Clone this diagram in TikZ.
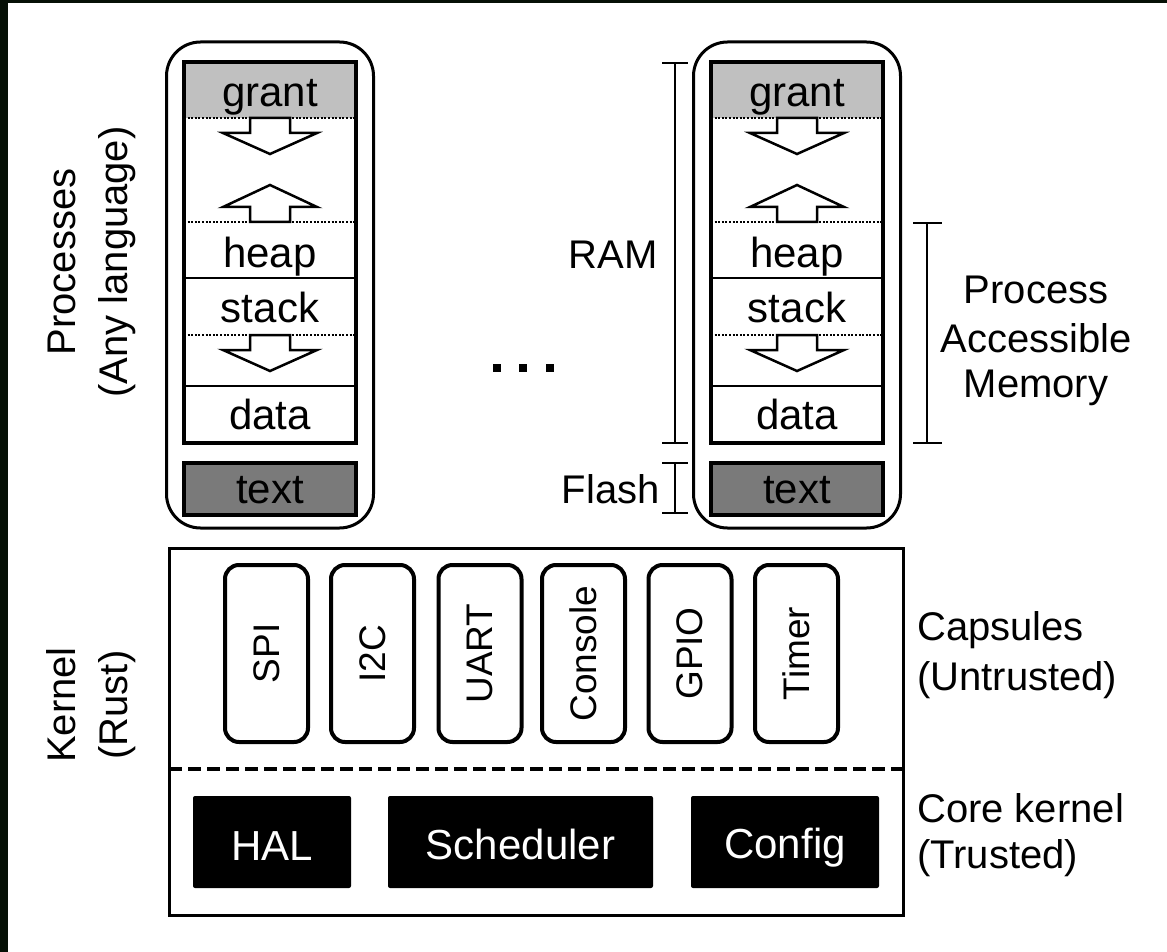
\documentclass[tikz,border=0pt]{standalone}
\usepackage{fontspec}
\setmainfont{Liberation Sans}
\definecolor{edgedark}{HTML}{061006}
\definecolor{grantgray}{HTML}{C0C0C0}
\definecolor{textgray}{HTML}{7A7A7A}
\tikzset{
  memlbl/.style={font=\fontsize{42}{48}\selectfont, inner sep=0pt, anchor=base},
  sidelbl/.style={font=\fontsize{40}{46}\selectfont, inner sep=0pt, anchor=base, rotate=90},
  rightlbl/.style={font=\fontsize{40}{46}\selectfont, inner sep=0pt},
  procbox/.style={draw, line width=3pt, rounded corners=34pt, minimum width=207pt, minimum height=486pt, inner sep=0pt},
  membox/.style={draw, line width=4pt, minimum width=172pt, minimum height=381pt, inner sep=0pt},
  grantbox/.style={fill=grantgray, minimum width=172pt, minimum height=56pt, inner sep=0pt},
  textbox/.style={draw, line width=3.5pt, fill=textgray, minimum width=172pt, minimum height=52pt, inner sep=0pt},
  dotsep/.style={line width=2pt, dash pattern=on 2pt off 1.6pt},
  solidsep/.style={line width=2pt},
  blockarrow/.style={draw, fill=white, line width=2.5pt, line join=miter},
  capsule/.style={draw, line width=4pt, rounded corners=14pt, minimum width=177pt, minimum height=83pt, inner sep=0pt, rotate=90, font=\fontsize{37}{42}\selectfont},
  corebox/.style={fill=black, rounded corners=2pt, minimum height=92pt, inner sep=0pt},
  corelbl/.style={text=white, font=\fontsize{42}{48}\selectfont, inner sep=0pt, anchor=base},
  bracket/.style={line width=2.5pt},
  darrow/.pic={\path[blockarrow] (-20,0) -- (-20,15) -- (-47,15) -- (0,36) -- (47,15) -- (20,15) -- (20,0) -- cycle;},
  uarrow/.pic={\path[blockarrow] (-20,0) -- (-20,-15) -- (-47,-15) -- (0,-37) -- (47,-15) -- (20,-15) -- (20,0) -- cycle;}
}
\begin{document}
\begin{tikzpicture}[x=1pt,y=-1pt]
\fill[edgedark] (0,0) rectangle (1167,952);
\fill[white] (8,3) rectangle (1167,952);
\useasboundingbox (0,0) rectangle (1167,952);

% side labels
\node[sidelbl] (proclbl) at (75,262) {Processes};
\node[sidelbl] (anylbl) at (127,262) {(Any language)};
\node[sidelbl] (kernlbl) at (75,705) {Kernel};
\node[sidelbl] (rustlbl) at (127,705) {(Rust)};

% process columns
\foreach \c/\n in {270/L,797/R}{
  \node[procbox] (proc\n) at (\c,285) {};
  \node[grantbox] (grant\n) at (\c,90) {};
  \node[membox] (mem\n) at (\c,252.5) {};
  \draw[dotsep] ({\c-86},118) -- ({\c+86},118);
  \draw[dotsep] ({\c-86},222) -- ({\c+86},222);
  \draw[solidsep] ({\c-86},278) -- ({\c+86},278);
  \draw[dotsep] ({\c-86},335) -- ({\c+86},335);
  \draw[solidsep] ({\c-86},386) -- ({\c+86},386);
  \pic at (\c,118) {darrow};
  \pic at (\c,222) {uarrow};
  \pic at (\c,335) {darrow};
  \node[memlbl] (grantT\n) at (\c,107) {grant};
  \node[memlbl] (heapT\n) at (\c,267) {heap};
  \node[memlbl] (stackT\n) at (\c,322) {stack};
  \node[memlbl] (dataT\n) at (\c,429) {data};
  \node[textbox] (text\n) at (\c,489) {};
  \node[memlbl] (textT\n) at (\c,503) {text};
}

% ellipsis
\foreach \x/\i in {497/1,523/2,550/3}{
  \node[fill=black, minimum size=8pt, inner sep=0pt] (dot\i) at (\x,368) {};
}

% RAM / Flash brackets
\coordinate (ramtop) at (675,63);
\coordinate (rambot) at (675,443);
\coordinate (flashtop) at (675,463);
\coordinate (flashbot) at (675,513);
\draw[bracket] (ramtop) -- (rambot);
\draw[bracket] ([xshift=-13pt]ramtop) -- ([xshift=13pt]ramtop);
\draw[bracket] ([xshift=-13pt]rambot) -- ([xshift=13pt]rambot);
\draw[bracket] (flashtop) -- (flashbot);
\draw[bracket] ([xshift=-13pt]flashtop) -- ([xshift=13pt]flashtop);
\draw[bracket] ([xshift=-13pt]flashbot) -- ([xshift=13pt]flashbot);
\node[rightlbl, anchor=base east] (ramlbl) at (658,268) {RAM};
\node[rightlbl, anchor=base east] (flashlbl) at (660,503) {Flash};

% process accessible memory bracket
\coordinate (pamtop) at (927,223);
\coordinate (pambot) at (927,443);
\draw[bracket] (pamtop) -- (pambot);
\draw[bracket] ([xshift=-14pt]pamtop) -- ([xshift=15pt]pamtop);
\draw[bracket] ([xshift=-14pt]pambot) -- ([xshift=15pt]pambot);
\node[rightlbl, anchor=base] (pam1) at (1036,303) {Process};
\node[rightlbl, anchor=base] (pam2) at (1036,352) {Accessible};
\node[rightlbl, anchor=base] (pam3) at (1036,397) {Memory};

% kernel
\node[draw, line width=3pt, minimum width=734pt, minimum height=367pt, inner sep=0pt] (kernel) at (536,731.5) {};
\coordinate (dashl) at (169,769);
\coordinate (dashr) at (903,769);
\draw[line width=4pt, dash pattern=on 13pt off 6pt] (dashl) -- (dashr);

\foreach \x/\t/\nm in {266.5/SPI/spi, 372.5/I2C/itwoc, 480/UART/uart, 583.5/Console/console, 690/GPIO/gpio, 796.5/Timer/timer}{
  \node[capsule] (\nm) at (\x,653.5) {\t};
}

\node[corebox, minimum width=158pt] (hal) at (272,842) {};
\node[corebox, minimum width=265pt] (sched) at (520.5,842) {};
\node[corebox, minimum width=188pt] (config) at (785,842) {};
\node[corelbl] (halT) at (hal.center |- 0,860) {HAL};
\node[corelbl] (schedT) at (sched.center |- 0,859) {Scheduler};
\node[corelbl] (configT) at (config.center |- 0,858) {Config};

\node[rightlbl, anchor=base west] (caps1) at (917,640) {Capsules};
\node[rightlbl, anchor=base west] (caps2) at (917,690) {(Untrusted)};
\node[rightlbl, anchor=base west] (core1) at (917,822) {Core kernel};
\node[rightlbl, anchor=base west] (core2) at (917,868) {(Trusted)};
\end{tikzpicture}
\end{document}
